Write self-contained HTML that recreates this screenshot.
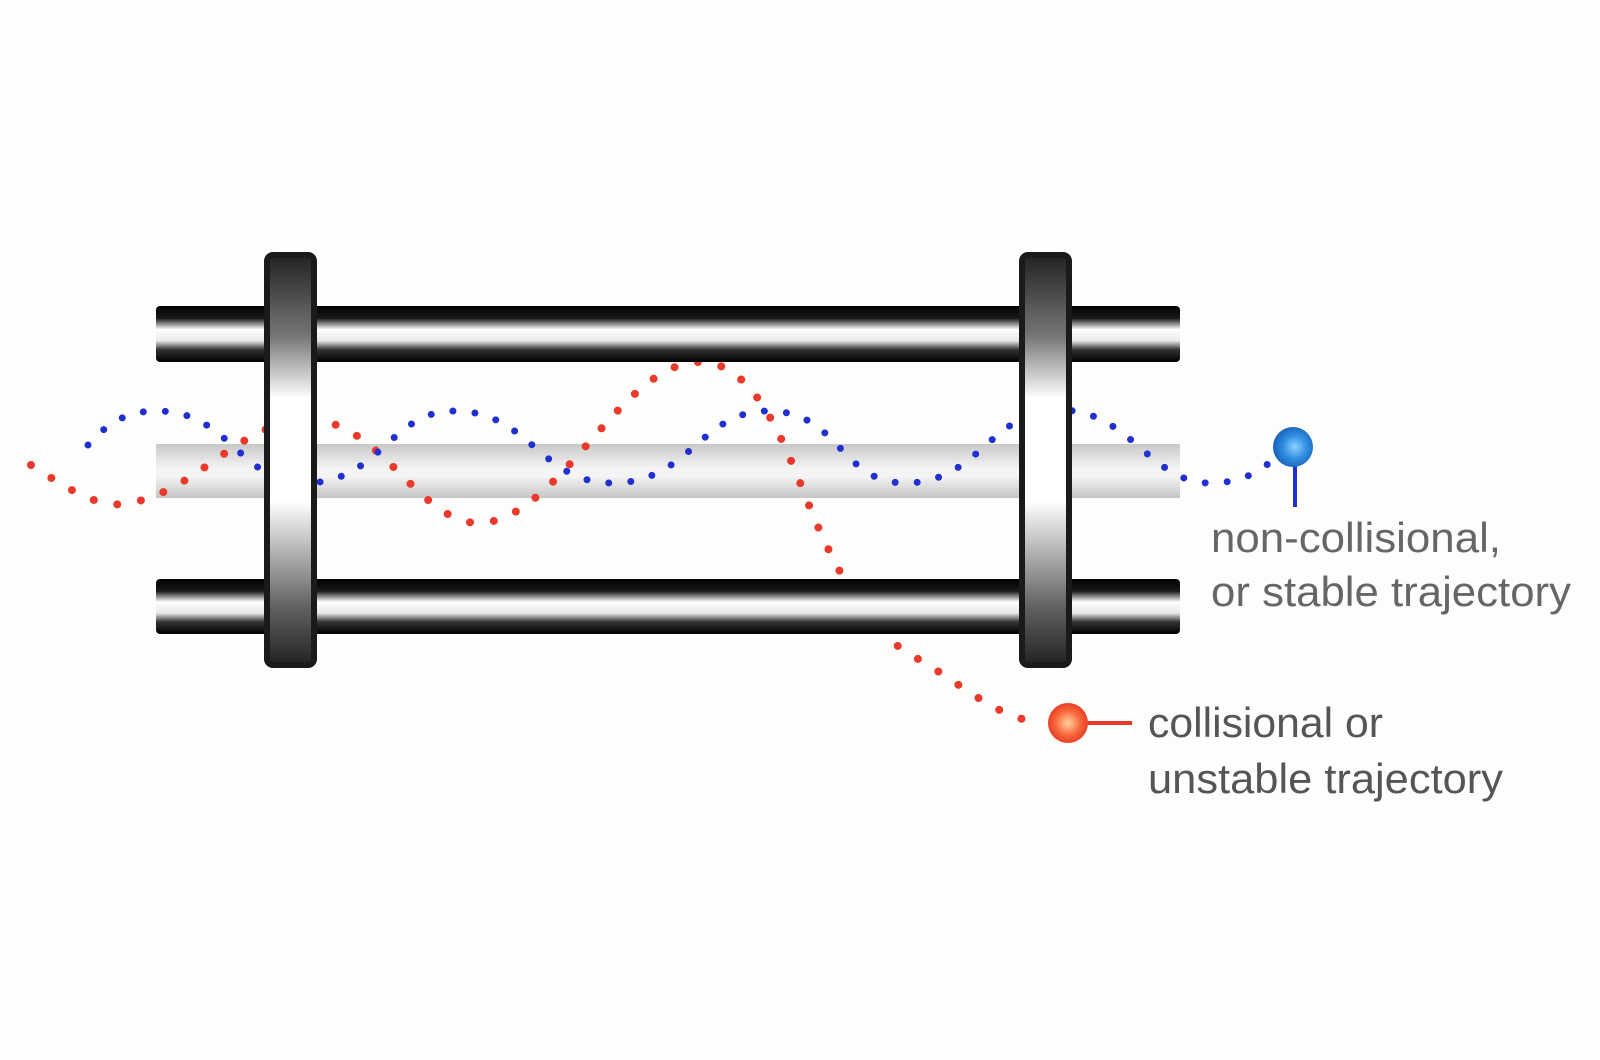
<!DOCTYPE html>
<html><head><meta charset="utf-8"><style>
html,body{margin:0;padding:0;background:#fdfdfc;}
svg{display:block}
</style></head><body>
<svg width="1600" height="1060" viewBox="0 0 1600 1060" xmlns="http://www.w3.org/2000/svg">
<defs>
<linearGradient id="rod" x1="0" y1="0" x2="0" y2="1">
<stop offset="0" stop-color="#000"/>
<stop offset="0.22" stop-color="#1a1a1a"/>
<stop offset="0.42" stop-color="#fff"/>
<stop offset="0.62" stop-color="#e8e8e8"/>
<stop offset="0.78" stop-color="#333"/>
<stop offset="1" stop-color="#000"/>
</linearGradient>
<linearGradient id="grey" x1="0" y1="0" x2="0" y2="1">
<stop offset="0" stop-color="#c8c8c8"/>
<stop offset="0.45" stop-color="#f4f4f4"/>
<stop offset="0.6" stop-color="#f4f4f4"/>
<stop offset="1" stop-color="#c4c4c4"/>
</linearGradient>
<linearGradient id="flange" x1="0" y1="0" x2="0" y2="1">
<stop offset="0" stop-color="#222"/>
<stop offset="0.2" stop-color="#777"/>
<stop offset="0.35" stop-color="#fff"/>
<stop offset="0.6" stop-color="#fff"/>
<stop offset="0.85" stop-color="#666"/>
<stop offset="1" stop-color="#222"/>
</linearGradient>
<radialGradient id="bball" cx="0.55" cy="0.5" r="0.6">
<stop offset="0" stop-color="#8fd0ff"/>
<stop offset="0.5" stop-color="#2f8ee0"/>
<stop offset="1" stop-color="#1358b0"/>
</radialGradient>
<radialGradient id="rball" cx="0.5" cy="0.5" r="0.6">
<stop offset="0" stop-color="#ffd0a0"/>
<stop offset="0.5" stop-color="#f86a3c"/>
<stop offset="1" stop-color="#e02a1a"/>
</radialGradient>
</defs>

<rect x="156" y="444" width="1024" height="54" fill="url(#grey)"/>

<path d="M31,465 C70,490 100,510 130,503 C200,490 240,420 310,420 C380,420 420,525 480,523 C560,520 620,362 700,362 C760,362 790,460 815,520 C850,600 880,640 920,660 C970,690 1000,720 1045,723"
 fill="none" stroke="#e8392a" stroke-width="8" stroke-linecap="round" stroke-dasharray="0 24"/>

<rect x="156" y="306" width="1024" height="56" rx="4" fill="url(#rod)"/>
<rect x="156" y="579" width="1024" height="55" rx="4" fill="url(#rod)"/>

<path d="M88,445 C110,420 130,411 157,411 C230,411 240,483 305,483 C380,483 390,411 454,411 C530,411 540,483 612,483 C690,483 700,411 768,411 C840,411 840,483 905,483 C980,483 990,410 1060,410 C1130,410 1150,483 1210,483 C1250,483 1265,465 1280,455"
 fill="none" stroke="#1f2fd0" stroke-width="7" stroke-linecap="round" stroke-dasharray="0 22"/>

<rect x="267" y="255" width="47" height="410" rx="6" fill="url(#flange)" stroke="#1a1a1a" stroke-width="6"/>
<rect x="1022" y="255" width="47" height="410" rx="6" fill="url(#flange)" stroke="#1a1a1a" stroke-width="6"/>

<line x1="1295" y1="460" x2="1295" y2="507" stroke="#2030d0" stroke-width="4"/>
<circle cx="1293" cy="447" r="20" fill="url(#bball)"/>
<line x1="1088" y1="723" x2="1132" y2="723" stroke="#e8392a" stroke-width="4"/>
<circle cx="1068" cy="723" r="20" fill="url(#rball)"/>

<g font-family="Liberation Sans, Arial, sans-serif" font-size="42" fill="#666">
<text x="1211" y="552" textLength="290" lengthAdjust="spacingAndGlyphs">non-collisional,</text>
<text x="1211" y="606" textLength="360" lengthAdjust="spacingAndGlyphs">or stable trajectory</text>
</g>
<g font-family="Liberation Sans, Arial, sans-serif" font-size="42" fill="#555">
<text x="1148" y="737" textLength="235" lengthAdjust="spacingAndGlyphs">collisional or</text>
<text x="1148" y="793" textLength="355" lengthAdjust="spacingAndGlyphs">unstable trajectory</text>
</g>
</svg>
</body></html>
